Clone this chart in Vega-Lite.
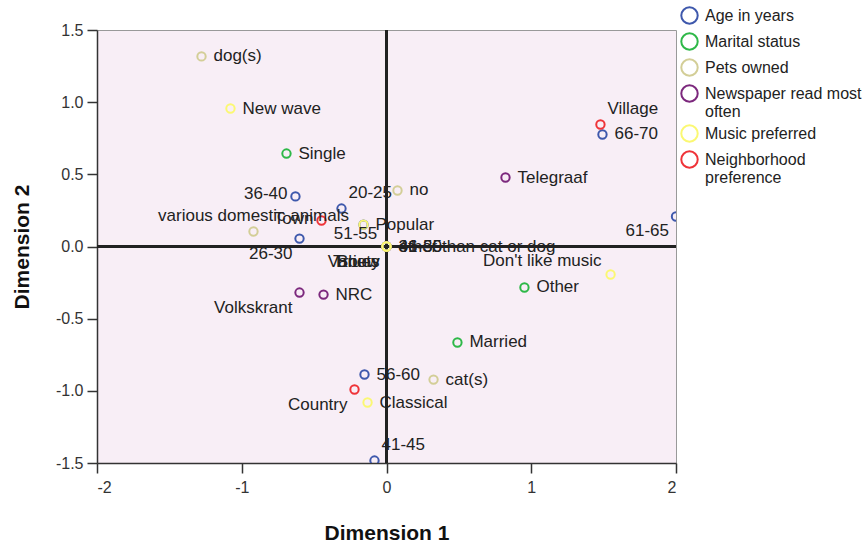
{
  "$schema": "https://vega.github.io/schema/vega-lite/v6.json",
  "width": 579,
  "height": 433,
  "autosize": {"type": "none"},
  "padding": {"left": 97, "top": 30, "right": 190, "bottom": 83},
  "background": "white",
  "config": {
    "view": {"fill": "#f8eef6", "stroke": "#999999", "strokeWidth": 1},
    "font": "Liberation Sans",
    "axis": {"grid": false, "tickSize": 10, "domainColor": "#333333", "tickColor": "#333333", "labelColor": "#333333", "labelFontSize": 16, "titleFontSize": 21, "titleFontWeight": "bold", "titleColor": "#111111", "domainWidth": 1.5, "tickWidth": 1.5, "labelExpr": "replace(datum.label, '\u2212', '-')"}
  },
  "data": {
    "values": [
      {"label": "20-25", "group": "Age in years", "x": -0.311, "y": 0.263},
      {"label": "26-30", "group": "Age in years", "x": -0.601, "y": 0.055},
      {"label": "31-35", "group": "Age in years", "x": 0, "y": 0},
      {"label": "36-40", "group": "Age in years", "x": -0.629, "y": 0.347},
      {"label": "41-45", "group": "Age in years", "x": -0.083, "y": -1.483},
      {"label": "46-50", "group": "Age in years", "x": 0, "y": 0},
      {"label": "51-55", "group": "Age in years", "x": -0.159, "y": 0.152},
      {"label": "56-60", "group": "Age in years", "x": -0.152, "y": -0.887},
      {"label": "61-65", "group": "Age in years", "x": 2.0, "y": 0.208},
      {"label": "66-70", "group": "Age in years", "x": 1.492, "y": 0.776},
      {"label": "Single", "group": "Marital status", "x": -0.691, "y": 0.644},
      {"label": "Married", "group": "Marital status", "x": 0.49, "y": -0.665},
      {"label": "Other", "group": "Marital status", "x": 0.953, "y": -0.284},
      {"label": "dog(s)", "group": "Pets owned", "x": -1.278, "y": 1.317},
      {"label": "no", "group": "Pets owned", "x": 0.076, "y": 0.388},
      {"label": "various domestic animals", "group": "Pets owned", "x": -0.919, "y": 0.104},
      {"label": "cat(s)", "group": "Pets owned", "x": 0.325, "y": -0.922},
      {"label": "other than cat or dog", "group": "Pets owned", "x": 0, "y": 0},
      {"label": "Telegraaf", "group": "Newspaper read most often", "x": 0.822, "y": 0.478},
      {"label": "Volkskrant", "group": "Newspaper read most often", "x": -0.601, "y": -0.319},
      {"label": "NRC", "group": "Newspaper read most often", "x": -0.435, "y": -0.333},
      {"label": "Trouw", "group": "Newspaper read most often", "x": 0, "y": 0},
      {"label": "New wave", "group": "Music preferred", "x": -1.078, "y": 0.956},
      {"label": "Popular", "group": "Music preferred", "x": -0.159, "y": 0.152},
      {"label": "Don't like music", "group": "Music preferred", "x": 1.548, "y": -0.194},
      {"label": "Classical", "group": "Music preferred", "x": -0.131, "y": -1.081},
      {"label": "Variety", "group": "Music preferred", "x": 0, "y": 0},
      {"label": "Blues", "group": "Music preferred", "x": 0, "y": 0},
      {"label": "Village", "group": "Neighborhood preference", "x": 1.478, "y": 0.845},
      {"label": "Town", "group": "Neighborhood preference", "x": -0.449, "y": 0.18},
      {"label": "Country", "group": "Neighborhood preference", "x": -0.221, "y": -0.991}
    ]
  },
  "encoding": {
    "x": {"field": "x", "type": "quantitative", "scale": {"domain": [-2, 2], "nice": false, "zero": false}, "axis": {"values": [-2, -1, 0, 1, 2], "format": "d", "title": "Dimension 1", "titlePadding": 27, "labelPadding": 6}},
    "y": {"field": "y", "type": "quantitative", "scale": {"domain": [-1.5, 1.5], "nice": false, "zero": false}, "axis": {"values": [-1.5, -1, -0.5, 0, 0.5, 1, 1.5], "format": ".1f", "title": "Dimension 2", "titlePadding": 23, "labelPadding": 4}}
  },
  "layer": [
    {"mark": {"type": "rule", "color": "#222222", "strokeWidth": 1.5}, "encoding": {"x": {"datum": 0}, "y": null}},
    {"mark": {"type": "rule", "color": "#222222", "strokeWidth": 1.5}, "encoding": {"y": {"datum": 0}, "x": null}},
    {
      "mark": {"type": "point", "shape": "circle", "filled": false, "size": 70, "strokeWidth": 2, "opacity": 1, "clip": true},
      "encoding": {
        "color": {"field": "group", "type": "nominal", "scale": {"domain": ["Age in years", "Marital status", "Pets owned", "Newspaper read most often", "Music preferred", "Neighborhood preference"], "range": ["#3E58AC", "#2EB848", "#D3CE97", "#7C287D", "#FBF873", "#EF3338"]},
          "legend": {"title": null, "orient": "none", "legendX": 583, "legendY": -24, "symbolType": "circle", "symbolFillColor": "transparent", "symbolStrokeWidth": 2, "symbolSize": 270, "labelFontSize": 16, "labelColor": "#222222", "labelOffset": 6, "rowPadding": 1, "labelLimit": 200, "labelLineHeight": 16,
            "labelExpr": "datum.label == 'Newspaper read most often' ? ['Newspaper read most', 'often'] : datum.label == 'Neighborhood preference' ? ['Neighborhood', 'preference'] : datum.label"}}
      }
    },
    {"transform": [{"filter": {"field": "label", "oneOf": ["dog(s)", "New wave", "Single", "no", "Telegraaf", "Other", "NRC", "Married", "56-60", "cat(s)", "Classical", "Popular", "66-70", "31-35", "46-50", "other than cat or dog"]}}],
     "mark": {"type": "text", "align": "left", "baseline": "middle", "dx": 12, "dy": 0, "fontSize": 17, "color": "#222222"}, "encoding": {"text": {"field": "label"}}},
    {"transform": [{"filter": {"field": "label", "oneOf": ["20-25", "41-45", "Village"]}}],
     "mark": {"type": "text", "align": "left", "baseline": "middle", "dx": 7, "dy": -16, "fontSize": 17, "color": "#222222"}, "encoding": {"text": {"field": "label"}}},
    {"transform": [{"filter": {"field": "label", "oneOf": ["26-30", "61-65", "Volkskrant", "Country", "Trouw", "Variety", "Blues"]}}],
     "mark": {"type": "text", "align": "right", "baseline": "middle", "dx": -7, "dy": 15, "fontSize": 17, "color": "#222222"}, "encoding": {"text": {"field": "label"}}},
    {"transform": [{"filter": {"field": "label", "oneOf": ["Don't like music"]}}],
     "mark": {"type": "text", "align": "right", "baseline": "middle", "dx": -9, "dy": -14, "fontSize": 17, "color": "#222222"}, "encoding": {"text": {"field": "label"}}},
    {"transform": [{"filter": {"field": "label", "oneOf": ["Town", "36-40"]}}],
     "mark": {"type": "text", "align": "right", "baseline": "middle", "dx": -8, "dy": -2, "fontSize": 17, "color": "#222222"}, "encoding": {"text": {"field": "label"}}},
    {"transform": [{"filter": {"field": "label", "oneOf": ["various domestic animals"]}}],
     "mark": {"type": "text", "align": "center", "baseline": "middle", "dx": 0, "dy": -15, "fontSize": 17, "color": "#222222"}, "encoding": {"text": {"field": "label"}}},
    {"transform": [{"filter": {"field": "label", "oneOf": ["51-55"]}}],
     "mark": {"type": "text", "align": "center", "baseline": "middle", "dx": -8, "dy": 9, "fontSize": 17, "color": "#222222"}, "encoding": {"text": {"field": "label"}}}
  ]
}
